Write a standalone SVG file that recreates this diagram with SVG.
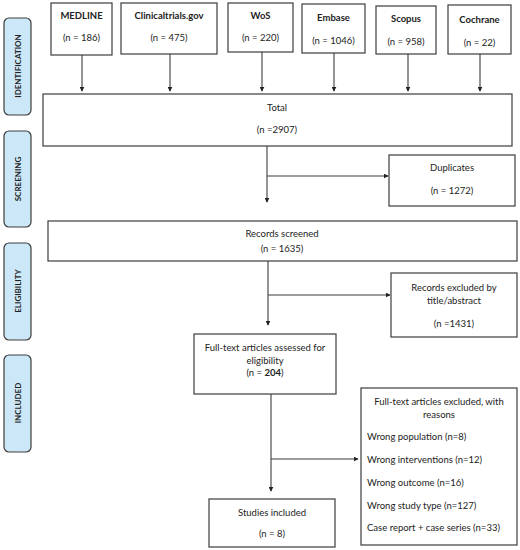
<svg xmlns="http://www.w3.org/2000/svg" width="520" height="550" viewBox="0 0 520 550">
<style>
.box{fill:#fff;stroke:#3c3c3c;stroke-width:1.2}
.side{fill:#cce8f8;stroke:#3c3c3c;stroke-width:1.2}
.t{font-family:Lato,"Liberation Sans",sans-serif;font-size:9.5px;fill:#222}
.c{text-anchor:middle}
.b{font-weight:bold}
.s{font-family:Lato,"Liberation Sans",sans-serif;font-size:8px;font-weight:bold;fill:#222;text-anchor:middle}
.ln{fill:none;stroke:#3c3c3c;stroke-width:1.1}
</style>
<defs>
<marker id="ah" viewBox="0 0 8 8" refX="7" refY="4" markerWidth="5" markerHeight="5" orient="auto" markerUnits="userSpaceOnUse">
<path d="M0,0 L8,4 L0,8 z" fill="#222"/>
</marker>
</defs>
<rect width="520" height="550" fill="#fff"/>
<g id="phase-identification"><rect class="side" x="4" y="18" width="27" height="97" rx="5"/><text class="s" transform="translate(21,66) rotate(-90)">IDENTIFICATION</text></g>
<g id="phase-screening"><rect class="side" x="4" y="131" width="27" height="96" rx="5"/><text class="s" transform="translate(21,179) rotate(-90)">SCREENING</text></g>
<g id="phase-eligibility"><rect class="side" x="4" y="243" width="27" height="97" rx="5"/><text class="s" transform="translate(21,291) rotate(-90)">ELIGIBILITY</text></g>
<g id="phase-included"><rect class="side" x="4" y="355" width="27" height="97" rx="5"/><text class="s" transform="translate(21,403) rotate(-90)">INCLUDED</text></g>

<g id="medline"><rect class="box" x="51" y="3" width="61" height="52"/><text class="t c b" x="81.5" y="19">MEDLINE</text><text class="t c" x="81.5" y="41">(n = 186)</text></g>
<g id="clinicaltrials"><rect class="box" x="121" y="3" width="96" height="51"/><text class="t c b" x="169" y="19">Clinicaltrials.gov</text><text class="t c" x="169" y="41">(n = 475)</text></g>
<g id="wos"><rect class="box" x="228" y="3" width="65" height="49"/><text class="t c b" x="260.5" y="19">WoS</text><text class="t c" x="260.5" y="41">(n = 220)</text></g>
<g id="embase"><rect class="box" x="302" y="4" width="63" height="49"/><text class="t c b" x="333.5" y="21">Embase</text><text class="t c" x="333.5" y="44">(n = 1046)</text></g>
<g id="scopus"><rect class="box" x="376" y="6" width="60" height="48"/><text class="t c b" x="406" y="22">Scopus</text><text class="t c" x="406" y="45">(n = 958)</text></g>
<g id="cochrane"><rect class="box" x="448" y="5" width="63" height="49"/><text class="t c b" x="479.5" y="23">Cochrane</text><text class="t c" x="479.5" y="46">(n = 22)</text></g>

<g id="total"><rect class="box" x="43" y="94" width="469" height="52"/><text class="t c" x="277" y="111">Total</text><text class="t c" x="277" y="133">(n =2907)</text></g>
<g id="duplicates"><rect class="box" x="389" y="155" width="126" height="51"/><text class="t c" x="452" y="171">Duplicates</text><text class="t c" x="452" y="194">(n = 1272)</text></g>
<g id="screened"><rect class="box" x="48" y="221" width="469" height="40"/><text class="t c" x="282" y="237">Records screened</text><text class="t c" x="282" y="252">(n = 1635)</text></g>
<g id="excluded-title"><rect class="box" x="391" y="273" width="126" height="64"/><text class="t c" x="454" y="291">Records excluded by</text><text class="t c" x="454" y="304">title/abstract</text><text class="t c" x="454" y="327">(n =1431)</text></g>
<g id="fulltext"><rect class="box" x="194" y="334" width="142" height="60"/><text class="t c" x="265" y="351">Full-text articles assessed for</text><text class="t c" x="265" y="364">eligibility</text><text class="t c" x="265" y="376">(n = <tspan class="b">204</tspan>)</text></g>
<g id="excluded-fulltext"><rect class="box" x="361" y="388" width="156" height="157"/><text class="t c" x="439" y="405">Full-text articles excluded, with</text><text class="t c" x="439" y="418">reasons</text><text class="t" x="367" y="440">Wrong population (n=8)</text><text class="t" x="367" y="463">Wrong interventions (n=12)</text><text class="t" x="367" y="486">Wrong outcome (n=16)</text><text class="t" x="367" y="509">Wrong study type (n=127)</text><text class="t" x="367" y="531">Case report + case series (n=33)</text></g>
<g id="included"><rect class="box" x="209" y="499" width="126" height="48"/><text class="t c" x="272" y="516">Studies included</text><text class="t c" x="272" y="537">(n = 8)</text></g>

<g id="connectors">
<line class="ln" x1="82" y1="55" x2="82" y2="91" marker-end="url(#ah)"/>
<line class="ln" x1="170" y1="54" x2="170" y2="91" marker-end="url(#ah)"/>
<line class="ln" x1="262" y1="52" x2="262" y2="91" marker-end="url(#ah)"/>
<line class="ln" x1="334" y1="53" x2="334" y2="91" marker-end="url(#ah)"/>
<line class="ln" x1="408" y1="54" x2="408" y2="91" marker-end="url(#ah)"/>
<line class="ln" x1="480" y1="54" x2="480" y2="91" marker-end="url(#ah)"/>
<line class="ln" x1="267" y1="146" x2="267" y2="202" marker-end="url(#ah)"/>
<line class="ln" x1="267" y1="176" x2="388" y2="176" marker-end="url(#ah)"/>
<line class="ln" x1="268" y1="261" x2="268" y2="325" marker-end="url(#ah)"/>
<line class="ln" x1="268" y1="295" x2="390" y2="295" marker-end="url(#ah)"/>
<line class="ln" x1="271" y1="394" x2="271" y2="491" marker-end="url(#ah)"/>
<line class="ln" x1="271" y1="459" x2="358" y2="459" marker-end="url(#ah)"/>
</g>
</svg>
